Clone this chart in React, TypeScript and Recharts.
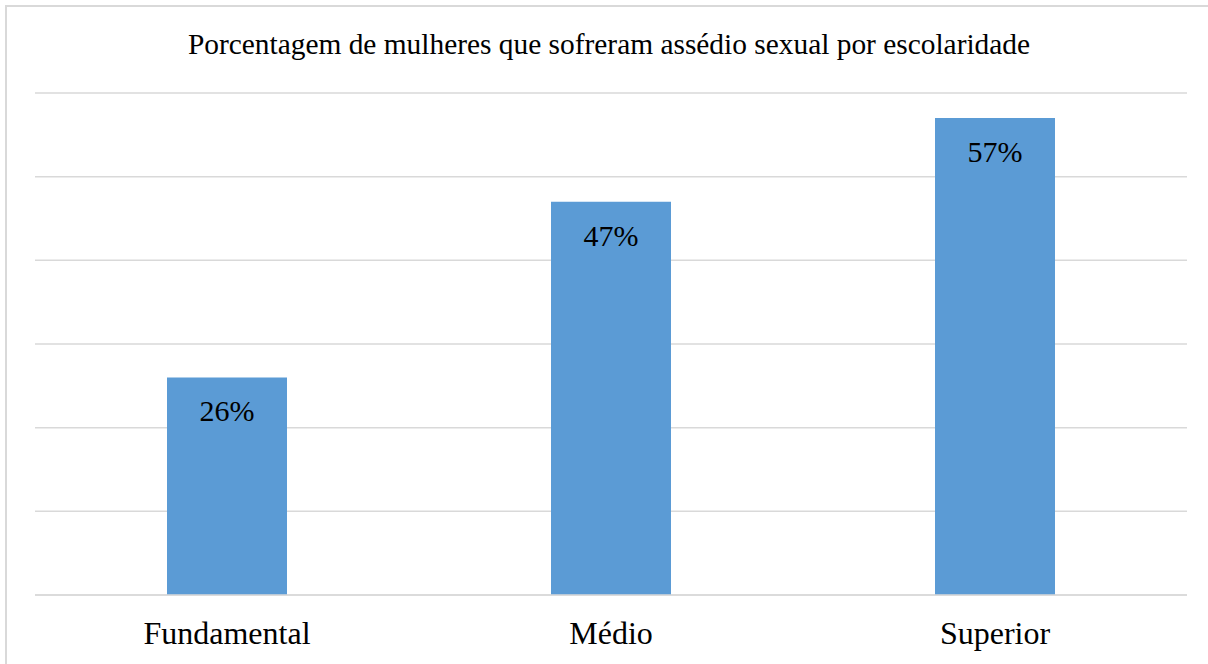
import { BarChart, Bar, XAxis, YAxis, CartesianGrid, LabelList } from 'recharts';

const categories = ['Fundamental', 'Médio', 'Superior'];
const values = [0.26, 0.47, 0.57];
const yTicks = [0, 0.1, 0.2, 0.3, 0.4, 0.5, 0.6];
const yMax = 0.6;
const title = 'Porcentagem de mulheres que sofreram assédio sexual por escolaridade';

const data = categories.map((name, i) => ({ name, value: values[i] }));

const FONT = '"Liberation Serif", "Times New Roman", serif';

const CategoryTick = (props: any) => {
  const { x, y, payload } = props;
  return (
    <text x={x} y={y} dy={41} textAnchor="middle" fontSize={32} fontFamily={FONT} fill="#000">
      {payload.value}
    </text>
  );
};

const ValueLabel = (props: any) => {
  const { x, y, width, value } = props;
  return (
    <text x={x + width / 2} y={y} dy={44} textAnchor="middle" fontSize={30} fontFamily={FONT} fill="#000">
      {Math.round(value * 100)}%
    </text>
  );
};

const EmptyTick = () => <g />;

// grid rows at every y tick, mapped through the plot offset
const gridRows = ({ yAxis, offset }: any) => {
  const s = yAxis && yAxis.scale;
  if (typeof s === 'function') return yTicks.map((t) => s(t));
  if (s && typeof s.map === 'function') return yTicks.map((t) => s.map(t));
  if (!offset) return [];
  return yTicks.map((t) => offset.top + offset.height * (1 - t / yMax));
};

const App = () => {
  return (
    <div style={{ position: 'fixed', left: 0, top: 0, width: 1208, height: 664, background: '#fff', overflow: 'hidden' }}>
      <div
        style={{
          position: 'absolute',
          left: 5,
          top: 5,
          width: 1220,
          height: 700,
          borderLeft: '2px solid #d9d9d9',
          borderTop: '2px solid #d9d9d9',
        }}
      />
      <div
        style={{
          position: 'absolute',
          left: 0,
          width: 1218,
          top: 26,
          textAlign: 'center',
          fontFamily: FONT,
          fontSize: 29.4,
          lineHeight: '36px',
          color: '#000',
          whiteSpace: 'nowrap',
        }}
      >
        {title}
      </div>
      <div style={{ position: 'absolute', left: 0, top: 0 }}>
        <BarChart width={1208} height={664} data={data} margin={{ top: 93, right: 21, left: 35, bottom: 0 }}>
          <CartesianGrid vertical={false} stroke="#d9d9d9" strokeWidth={1.5} horizontalCoordinatesGenerator={gridRows} />
          <YAxis
            width={0}
            domain={[0, yMax]}
            ticks={yTicks}
            interval={0}
            axisLine={false}
            tickLine={false}
            tick={<EmptyTick />}
          />
          <XAxis
            dataKey="name"
            height={69}
            axisLine={{ stroke: '#d9d9d9', strokeWidth: 1.5 }}
            tickLine={false}
            tick={<CategoryTick />}
          />
          <Bar dataKey="value" fill="#5b9bd5" barSize={120} isAnimationActive={false}>
            <LabelList dataKey="value" content={<ValueLabel />} />
          </Bar>
        </BarChart>
      </div>
    </div>
  );
};

export default App;
